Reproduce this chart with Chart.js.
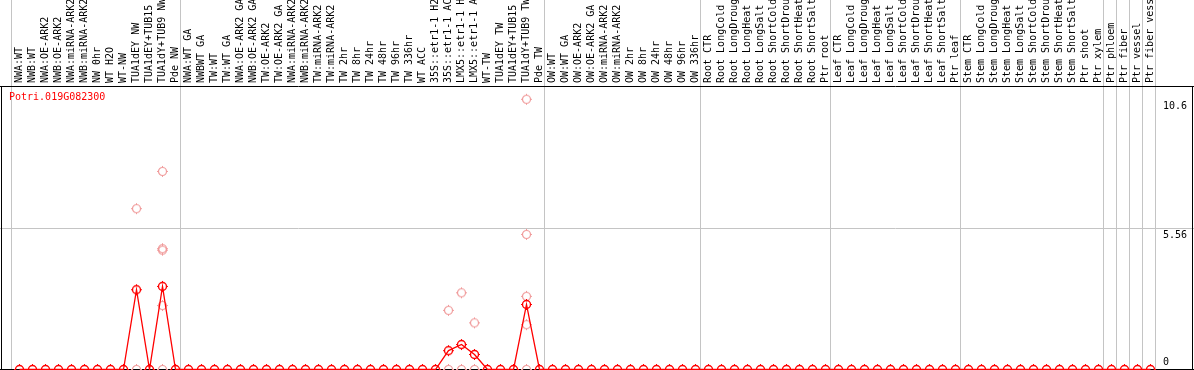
<!DOCTYPE html>
<html>
<head>
<meta charset="utf-8">
<script src="https://cdn.jsdelivr.net/npm/chart.js@4/dist/chart.umd.min.js"></script>
<style>
  html, body { margin: 0; padding: 0; background: #fff; }
  #wrap { width: 1194px; height: 370px; position: relative; }
</style>
</head>
<body>
<div id="wrap"><canvas id="chart"></canvas></div>
<script>
const geneId = 'Potri.019G082300';

const samples = [
  'NWA:WT', 'NWB:WT', 'NWA:OE-ARK2', 'NWB:OE-ARK2', 'NWA:miRNA-ARK2', 'NWB:miRNA-ARK2',
  'NW 0hr', 'WT H2O', 'WT-NW', 'TUA1dEY NW', 'TUA1dEY+TUB15 NW', 'TUA1dY+TUB9 NW', 'Pde NW',
  'NWA:WT GA', 'NWBWT GA', 'TW:WT', 'TW:WT GA', 'NWA:OE-ARK2 GA', 'NWB:OE-ARK2 GA',
  'TW:OE-ARK2', 'TW:OE-ARK2 GA', 'NWA:miRNA-ARK2', 'NWB:miRNA-ARK2', 'TW:miRNA-ARK2', 'TW:miRNA-ARK2',
  'TW 2hr', 'TW 8hr', 'TW 24hr', 'TW 48hr', 'TW 96hr', 'TW 336hr', 'WT ACC',
  '35S::etr1-1 H2O', '35S::etr1-1 ACC', 'LMX5::etr1-1 H2O', 'LMX5::etr1-1 ACC',
  'WT-TW', 'TUA1dEY TW', 'TUA1dEY+TUB15 TW', 'TUA1dY+TUB9 TW', 'Pde TW',
  'OW:WT', 'OW:WT GA', 'OW:OE-ARK2', 'OW:OE-ARK2 GA', 'OW:miRNA-ARK2', 'OW:miRNA-ARK2',
  'OW 2hr', 'OW 8hr', 'OW 24hr', 'OW 48hr', 'OW 96hr', 'OW 336hr',
  'Root CTR', 'Root LongCold', 'Root LongDrought', 'Root LongHeat', 'Root LongSalt',
  'Root ShortCold', 'Root ShortDrought', 'Root ShortHeat', 'Root ShortSalt', 'Ptr root',
  'Leaf CTR', 'Leaf LongCold', 'Leaf LongDrought', 'Leaf LongHeat', 'Leaf LongSalt',
  'Leaf ShortCold', 'Leaf ShortDrought', 'Leaf ShortHeat', 'Leaf ShortSalt', 'Ptr leaf',
  'Stem CTR', 'Stem LongCold', 'Stem LongDrought', 'Stem LongHeat', 'Stem LongSalt',
  'Stem ShortCold', 'Stem ShortDrought', 'Stem ShortHeat', 'Stem ShortSalt', 'Ptr shoot',
  'Ptr xylem', 'Ptr phloem', 'Ptr fiber', 'Ptr vessel', 'Ptr fiber vessel'
];

// mean expression per sample
const meanValues = [
  0, 0, 0, 0, 0, 0, 0, 0, 0, 3.13, 0, 3.26, 0,
  0, 0, 0, 0, 0, 0, 0, 0, 0, 0, 0, 0, 0, 0, 0, 0, 0, 0, 0, 0,
  0.74, 0.98, 0.59, 0, 0, 0, 2.55, 0,
  0, 0, 0, 0, 0, 0, 0, 0, 0, 0, 0, 0,
  0, 0, 0, 0, 0, 0, 0, 0, 0, 0,
  0, 0, 0, 0, 0, 0, 0, 0, 0, 0,
  0, 0, 0, 0, 0, 0, 0, 0, 0, 0,
  0, 0, 0, 0, 0
];

// individual replicates (sample index, value)
const repIndex = [9, 9, 11, 11, 11, 11, 11, 33, 33, 34, 34, 35, 35, 39, 39, 39, 39, 39];
const repValues = [6.31, 0, 7.77, 4.74, 4.68, 2.51, 0, 2.32, 0, 3.01, 0, 1.83, 0, 10.6, 5.3, 2.87, 1.76, 0];

const groupStarts = [0, 13, 41, 53, 63, 73, 84, 85, 86, 87, 88];
const yTicks = [0, 5.56, 10.6];
const yGrid = [5.56];
const yMax = 11.12;

const MONO = '"DejaVu Sans Mono", "Liberation Mono", monospace';
Chart.defaults.font.family = MONO;
Chart.defaults.font.size = 10;
Chart.defaults.color = '#000';

function ringMark(color, lw) {
  const c = document.createElement('canvas');
  c.width = 13; c.height = 13;
  const g = c.getContext('2d');
  g.strokeStyle = color;
  g.lineWidth = lw;
  g.beginPath();
  g.arc(6.5, 6.5, 4, 0, Math.PI * 2);
  g.stroke();
  g.fillStyle = color;
  g.fillRect(6, 1, 1, 1);
  g.fillRect(6, 11, 1, 1);
  g.fillRect(1, 6, 1, 1);
  g.fillRect(11, 6, 1, 1);
  return c;
}

const framePlugin = {
  id: 'frame',
  beforeDatasetsDraw(chart) {
    const { ctx, chartArea: a, scales: { x, y } } = chart;
    const W = chart.width;
    const bottom = Math.floor(a.bottom) + 0.5;
    ctx.save();
    ctx.lineWidth = 1;
    ctx.strokeStyle = '#c4c4c4';
    ctx.beginPath();
    groupStarts.forEach(b => {
      const px = Math.round(x.getPixelForValue(b - 0.5)) - 1.5;
      ctx.moveTo(px, 0);
      ctx.lineTo(px, bottom);
    });
    yGrid.forEach(v => {
      const py = Math.round(y.getPixelForValue(v)) + 0.5;
      ctx.moveTo(0, py);
      ctx.lineTo(W, py);
    });
    ctx.stroke();
    ctx.strokeStyle = '#000';
    ctx.beginPath();
    ctx.moveTo(0, a.top + 0.5); ctx.lineTo(W, a.top + 0.5);
    ctx.moveTo(0, bottom); ctx.lineTo(W, bottom);
    ctx.moveTo(1.5, a.top); ctx.lineTo(1.5, bottom);
    ctx.moveTo(W - 1.5, a.top); ctx.lineTo(W - 1.5, bottom);
    ctx.stroke();
    ctx.restore();
  },
  afterDraw(chart) {
    const { ctx, chartArea: a, scales: { y } } = chart;
    ctx.save();
    ctx.font = '10px ' + MONO;
    ctx.fillStyle = '#ff0000';
    ctx.textBaseline = 'alphabetic';
    ctx.fillText(geneId, 9, a.top + 14);
    ctx.fillStyle = '#000';
    ctx.textBaseline = 'top';
    yTicks.forEach(v => {
      const py = Math.min(Math.round(y.getPixelForValue(v)) + 2, Math.floor(a.bottom) - 12);
      ctx.fillText(String(v), Math.round(a.right) + 6, py);
    });
    ctx.restore();
  }
};

new Chart(document.getElementById('chart'), {
  type: 'line',
  data: {
    datasets: [
      {
        label: 'mean',
        data: meanValues.map((v, i) => ({ x: i, y: v })),
        borderColor: '#ff0000',
        borderWidth: 1.3,
        pointStyle: ringMark('#ff0000', 1.4),
        pointRadius: 5,
        tension: 0,
        clip: false
      },
      {
        label: 'replicates',
        data: repIndex.map((c, k) => ({ x: c, y: repValues[k] })),
        showLine: false,
        pointStyle: ringMark('#f09a9a', 1.2),
        pointRadius: 5,
        clip: false
      }
    ]
  },
  options: {
    responsive: true,
    maintainAspectRatio: false,
    animation: false,
    layout: { autoPadding: false, padding: { left: 13, right: 0, top: 0, bottom: 0.5 } },
    plugins: { legend: { display: false }, tooltip: { enabled: false } },
    scales: {
      x: {
        type: 'linear',
        position: 'top',
        min: -0.5,
        max: samples.length - 0.5,
        afterBuildTicks: s => { s.ticks = samples.map((_, i) => ({ value: i })); },
        afterFit: s => { s.height = 86; },
        grid: { display: false, drawTicks: false },
        border: { display: false },
        ticks: {
          autoSkip: false,
          minRotation: 90,
          maxRotation: 90,
          padding: 3,
          labelOffset: 11.5,
          color: '#000',
          font: { family: MONO, size: 10 },
          callback: v => samples[v]
        }
      },
      y: {
        type: 'linear',
        position: 'right',
        min: 0,
        max: yMax,
        afterFit: s => { s.width = 37; },
        grid: { display: false },
        border: { display: false },
        ticks: { display: false }
      }
    }
  },
  plugins: [framePlugin]
});
</script>
</body>
</html>
